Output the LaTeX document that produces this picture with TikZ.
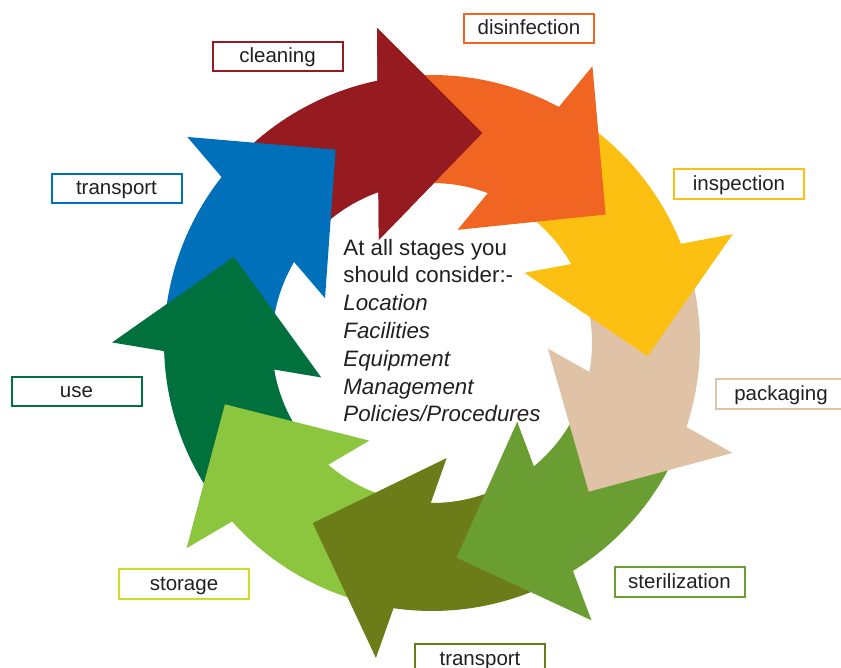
\documentclass[tikz,border=0pt]{standalone}
\usepackage{fontspec}
\setmainfont{Liberation Sans}
\usepackage{xcolor}
\definecolor{cleanred}{RGB}{150,27,32}
\definecolor{disorange}{RGB}{241,101,34}
\definecolor{inspyellow}{RGB}{252,192,19}
\definecolor{packtan}{RGB}{224,195,166}
\definecolor{sterilgreen}{RGB}{107,158,50}
\definecolor{transolive}{RGB}{107,124,24}
\definecolor{storegreen}{RGB}{140,198,63}
\definecolor{storeline}{RGB}{205,220,40}
\definecolor{usegreen}{RGB}{0,112,60}
\definecolor{transblue}{RGB}{0,112,186}
\definecolor{txt}{RGB}{35,31,32}

\begin{document}
\begin{tikzpicture}[thick,
    stage/.style={draw=#1, line width=2pt, minimum width=130pt, minimum height=29.5pt, inner sep=0pt,
      text height=13pt, text depth=0pt, font=\fontsize{20.5}{24}\selectfont, text=txt}]
  \useasboundingbox (0pt,0pt) rectangle (841pt,-668pt);
  % ring of arrows, drawn anticlockwise so each head lies on the next tail
  \begin{scope}[shift={(432pt,-343pt)}]
    \foreach \c [count=\k from 0] in {cleanred,transblue,usegreen,storegreen,transolive,sterilgreen,packtan,inspyellow,disorange}{
      \pgfmathsetmacro\b{104.5+40*\k}
      \fill[\c] (\b+36:268pt) arc[start angle=\b+36, end angle=\b-2.76, radius=268pt]
        -- (\b-4.6:319.9pt) -- (\b-28:216pt) -- (\b+12.77:116pt) -- (\b+5.06:160pt)
        arc[start angle=\b+5.06, end angle=\b+36, radius=160pt] -- cycle;
    }
    % cleaning head again, over the tail of disinfection
    \fill[cleanred] (99.9:319.9pt) -- (76.5:216pt) -- (117.27:116pt) -- cycle;
  \end{scope}

  \node[stage=cleanred] (Cl) at (277.5pt,-56.5pt) {cleaning};
  \node[stage=disorange] (Di) at (529pt,-28.3pt) {disinfection};
  \node[stage=inspyellow] (In) at (739pt,-184pt) {inspection};
  \node[stage=packtan] (Pa) at (781pt,-394pt) {packaging};
  \node[stage=sterilgreen] (St) at (679.5pt,-582pt) {sterilization};
  \node[stage=transolive] (T2) at (480pt,-658.5pt) {transport};
  \node[stage=storeline] (So) at (184pt,-584pt) {storage};
  \node[stage=usegreen] (Us) at (76.5pt,-391.5pt) {use};
  \node[stage=transblue] (T1) at (116.5pt,-188.5pt) {transport};

  % base of a multi-line node is its last line
  \node[align=left, anchor=base west, inner sep=0pt, text=txt,
    font=\fontsize{22.3}{27.8}\selectfont] (note) at (343pt,-421.8pt)
    {At all stages you\\should consider:-\\\textit{Location}\\\textit{Facilities}\\\textit{Equipment}\\\textit{Management}\\\textit{Policies/Procedures}};
\end{tikzpicture}
\end{document}
